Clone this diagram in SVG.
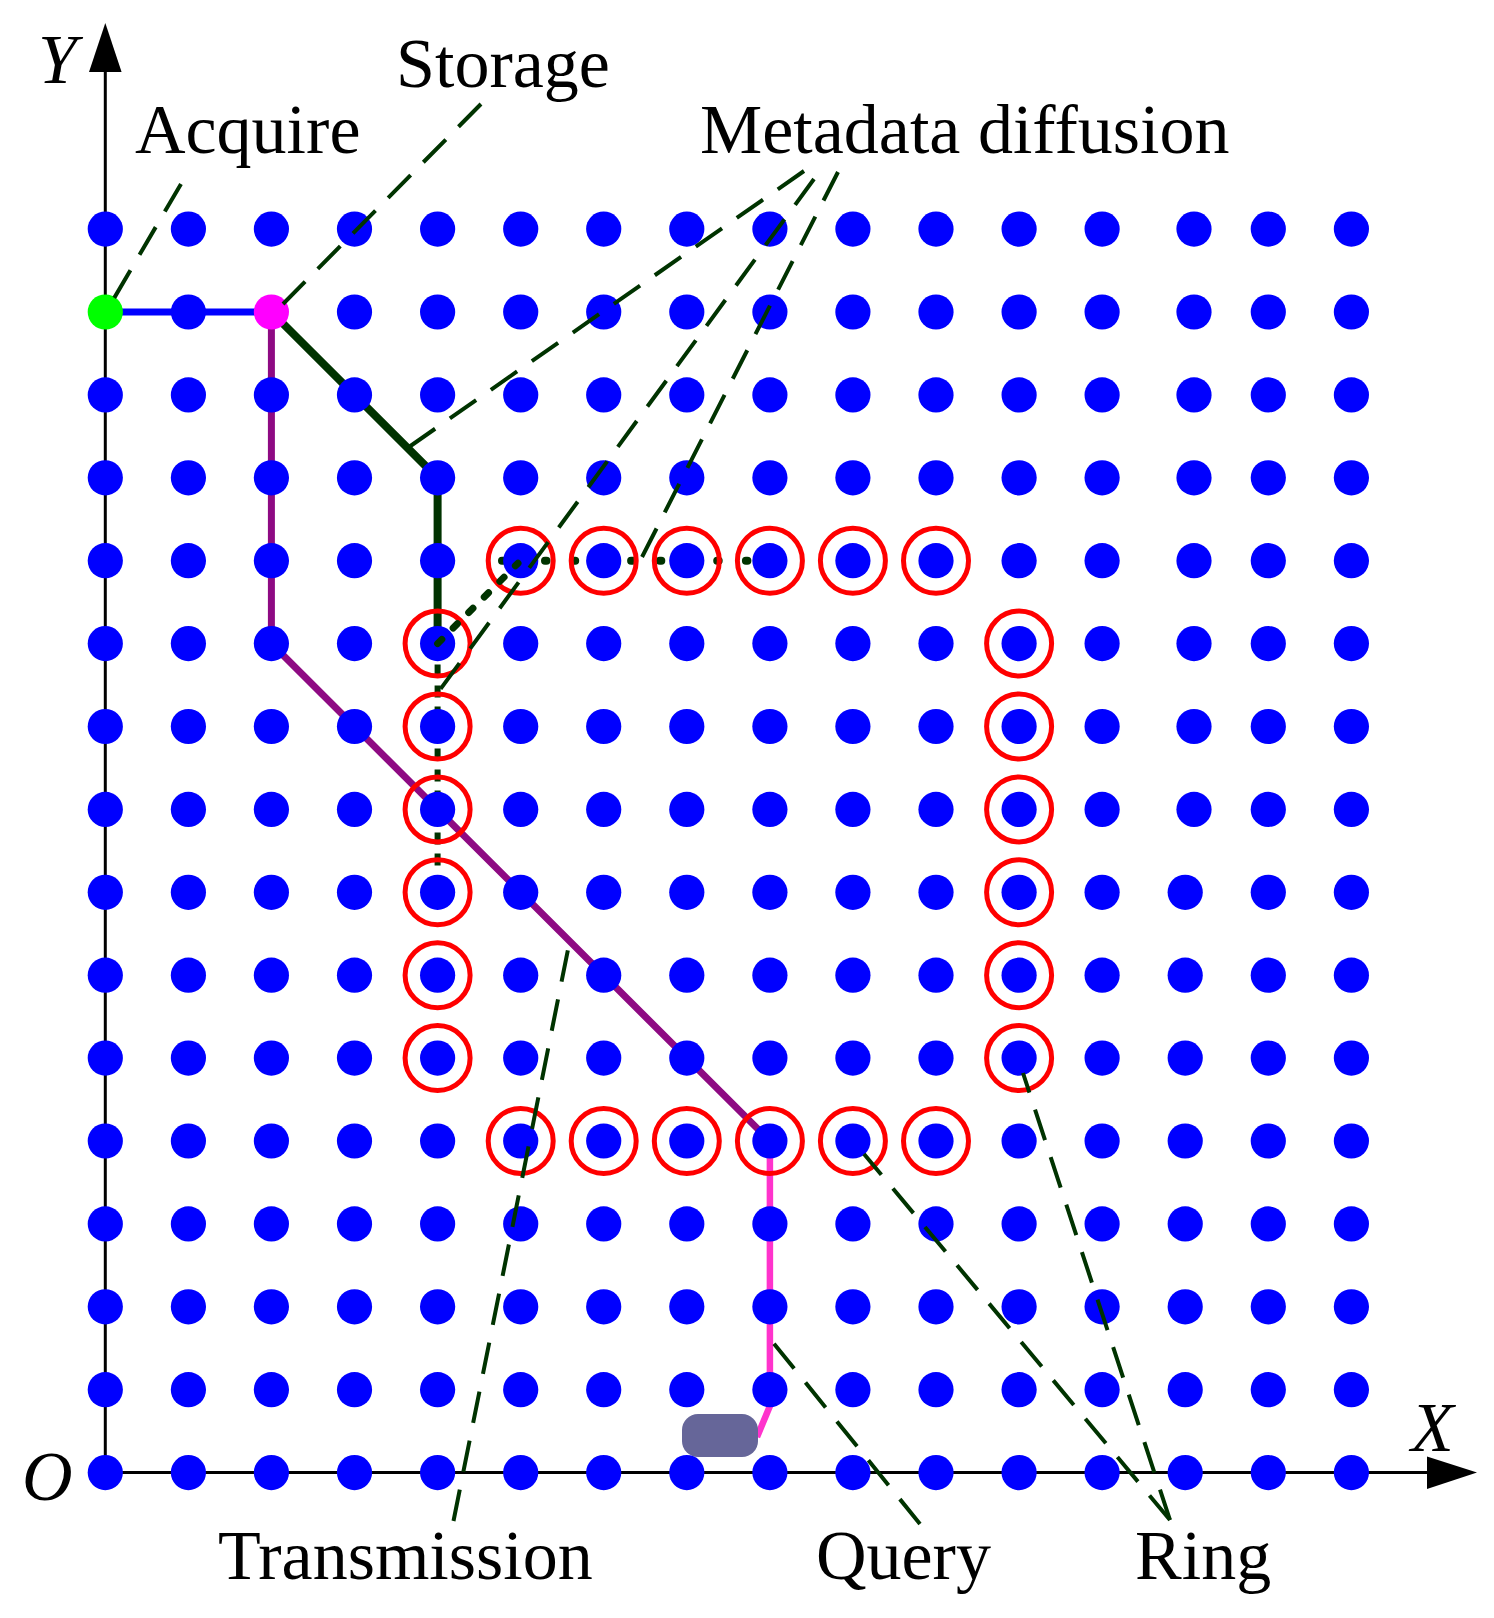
<svg xmlns="http://www.w3.org/2000/svg" width="1494" height="1618" viewBox="0 0 1494 1618">
<style>
.bg{fill:#fff}
.d{fill:#0000ff}
.d circle{r:17.6px}
.ring{fill:none;stroke:#ff0000;stroke-width:5}
.axis{stroke:#000;stroke-width:3;fill:none}
.lbl{font-family:"Liberation Serif","Times New Roman",serif;font-size:70px;fill:#000}
.it{font-style:italic}
.lead{fill:none;stroke:#003300;stroke-width:4;stroke-dasharray:32 18}
</style>
<rect class="bg" x="0" y="0" width="1494" height="1618"/>

<!-- axes -->
<g id="axes">
  <line class="axis" x1="105.3" y1="70" x2="105.3" y2="1472.6"/>
  <line class="axis" x1="105.3" y1="1472.6" x2="1430" y2="1472.6"/>
  <polygon points="105.3,23 89,72 121.6,72" fill="#000"/>
  <polygon points="1477,1472.6 1427,1456.5 1427,1489" fill="#000"/>
  <text class="lbl it" x="38" y="83">Y</text>
  <text class="lbl it" x="1411" y="1451" font-size="74">X</text>
  <text class="lbl it" x="22" y="1500">O</text>
</g>

<!-- connectors (under nodes) -->
<g id="connectors-under" fill="none">
  <path d="M105.3,312 L271.4,312" stroke="#0000ff" stroke-width="7"/>
  <path d="M271.4,312 L271.4,643.6 L769.9,1141" stroke="#8e0a83" stroke-width="7" stroke-linejoin="round"/>
  <path d="M769.9,1141 L769.9,1406 L757,1437" stroke="#ff33cc" stroke-width="6.5"/>
  <path d="M271.4,312 L437.6,477.8 L437.6,643.6" stroke="#003300" stroke-width="8"/>
  <path d="M437.6,643.6 L437.6,866" stroke="#003300" stroke-width="6" stroke-dasharray="12 9"/>
  <path d="M502,560.7 L503,560.7 M545,560.7 L748,560.7" stroke="#003300" stroke-width="8" stroke-dasharray="1.5 27.2" stroke-linecap="round"/>
</g>

<g id="device">
  <rect x="682" y="1414" width="76" height="43" rx="16" fill="#666699"/>
</g>

<!-- node grid -->
<g id="nodes" class="d">
  <g id="row-0" transform="translate(0,229.1)"><circle cx="105.3"/><circle cx="188.4"/><circle cx="271.4"/><circle cx="354.5"/><circle cx="437.6"/><circle cx="520.7"/><circle cx="603.7"/><circle cx="686.8"/><circle cx="769.9"/><circle cx="852.9"/><circle cx="936"/><circle cx="1019.1"/><circle cx="1102.1"/><circle cx="1194"/><circle cx="1268.3"/><circle cx="1351.4"/></g>
  <g id="row-1" transform="translate(0,312)"><circle cx="105.3" id="acquire" fill="#00ff00"/><circle cx="188.4"/><circle cx="271.4" id="storage" fill="#ff00ff"/><circle cx="354.5"/><circle cx="437.6"/><circle cx="520.7"/><circle cx="603.7"/><circle cx="686.8"/><circle cx="769.9"/><circle cx="852.9"/><circle cx="936"/><circle cx="1019.1"/><circle cx="1102.1"/><circle cx="1194"/><circle cx="1268.3"/><circle cx="1351.4"/></g>
  <g id="row-2" transform="translate(0,394.9)"><circle cx="105.3"/><circle cx="188.4"/><circle cx="271.4"/><circle cx="354.5"/><circle cx="437.6"/><circle cx="520.7"/><circle cx="603.7"/><circle cx="686.8"/><circle cx="769.9"/><circle cx="852.9"/><circle cx="936"/><circle cx="1019.1"/><circle cx="1102.1"/><circle cx="1194"/><circle cx="1268.3"/><circle cx="1351.4"/></g>
  <g id="row-3" transform="translate(0,477.8)"><circle cx="105.3"/><circle cx="188.4"/><circle cx="271.4"/><circle cx="354.5"/><circle cx="437.6"/><circle cx="520.7"/><circle cx="603.7"/><circle cx="686.8"/><circle cx="769.9"/><circle cx="852.9"/><circle cx="936"/><circle cx="1019.1"/><circle cx="1102.1"/><circle cx="1194"/><circle cx="1268.3"/><circle cx="1351.4"/></g>
  <g id="row-4" transform="translate(0,560.7)"><circle cx="105.3"/><circle cx="188.4"/><circle cx="271.4"/><circle cx="354.5"/><circle cx="437.6"/><circle cx="520.7"/><circle cx="603.7"/><circle cx="686.8"/><circle cx="769.9"/><circle cx="852.9"/><circle cx="936"/><circle cx="1019.1"/><circle cx="1102.1"/><circle cx="1194"/><circle cx="1268.3"/><circle cx="1351.4"/></g>
  <g id="row-5" transform="translate(0,643.6)"><circle cx="105.3"/><circle cx="188.4"/><circle cx="271.4"/><circle cx="354.5"/><circle cx="437.6"/><circle cx="520.7"/><circle cx="603.7"/><circle cx="686.8"/><circle cx="769.9"/><circle cx="852.9"/><circle cx="936"/><circle cx="1019.1"/><circle cx="1102.1"/><circle cx="1194"/><circle cx="1268.3"/><circle cx="1351.4"/></g>
  <g id="row-6" transform="translate(0,726.5)"><circle cx="105.3"/><circle cx="188.4"/><circle cx="271.4"/><circle cx="354.5"/><circle cx="437.6"/><circle cx="520.7"/><circle cx="603.7"/><circle cx="686.8"/><circle cx="769.9"/><circle cx="852.9"/><circle cx="936"/><circle cx="1019.1"/><circle cx="1102.1"/><circle cx="1194"/><circle cx="1268.3"/><circle cx="1351.4"/></g>
  <g id="row-7" transform="translate(0,809.4)"><circle cx="105.3"/><circle cx="188.4"/><circle cx="271.4"/><circle cx="354.5"/><circle cx="437.6"/><circle cx="520.7"/><circle cx="603.7"/><circle cx="686.8"/><circle cx="769.9"/><circle cx="852.9"/><circle cx="936"/><circle cx="1019.1"/><circle cx="1102.1"/><circle cx="1194"/><circle cx="1268.3"/><circle cx="1351.4"/></g>
  <g id="row-8" transform="translate(0,892.3)"><circle cx="105.3"/><circle cx="188.4"/><circle cx="271.4"/><circle cx="354.5"/><circle cx="437.6"/><circle cx="520.7"/><circle cx="603.7"/><circle cx="686.8"/><circle cx="769.9"/><circle cx="852.9"/><circle cx="936"/><circle cx="1019.1"/><circle cx="1102.1"/><circle cx="1185.2"/><circle cx="1268.3"/><circle cx="1351.4"/></g>
  <g id="row-9" transform="translate(0,975.2)"><circle cx="105.3"/><circle cx="188.4"/><circle cx="271.4"/><circle cx="354.5"/><circle cx="437.6"/><circle cx="520.7"/><circle cx="603.7"/><circle cx="686.8"/><circle cx="769.9"/><circle cx="852.9"/><circle cx="936"/><circle cx="1019.1"/><circle cx="1102.1"/><circle cx="1185.2"/><circle cx="1268.3"/><circle cx="1351.4"/></g>
  <g id="row-10" transform="translate(0,1058.1)"><circle cx="105.3"/><circle cx="188.4"/><circle cx="271.4"/><circle cx="354.5"/><circle cx="437.6"/><circle cx="520.7"/><circle cx="603.7"/><circle cx="686.8"/><circle cx="769.9"/><circle cx="852.9"/><circle cx="936"/><circle cx="1019.1"/><circle cx="1102.1"/><circle cx="1185.2"/><circle cx="1268.3"/><circle cx="1351.4"/></g>
  <g id="row-11" transform="translate(0,1141)"><circle cx="105.3"/><circle cx="188.4"/><circle cx="271.4"/><circle cx="354.5"/><circle cx="437.6"/><circle cx="520.7"/><circle cx="603.7"/><circle cx="686.8"/><circle cx="769.9"/><circle cx="852.9"/><circle cx="936"/><circle cx="1019.1"/><circle cx="1102.1"/><circle cx="1185.2"/><circle cx="1268.3"/><circle cx="1351.4"/></g>
  <g id="row-12" transform="translate(0,1223.9)"><circle cx="105.3"/><circle cx="188.4"/><circle cx="271.4"/><circle cx="354.5"/><circle cx="437.6"/><circle cx="520.7"/><circle cx="603.7"/><circle cx="686.8"/><circle cx="769.9"/><circle cx="852.9"/><circle cx="936"/><circle cx="1019.1"/><circle cx="1102.1"/><circle cx="1185.2"/><circle cx="1268.3"/><circle cx="1351.4"/></g>
  <g id="row-13" transform="translate(0,1306.8)"><circle cx="105.3"/><circle cx="188.4"/><circle cx="271.4"/><circle cx="354.5"/><circle cx="437.6"/><circle cx="520.7"/><circle cx="603.7"/><circle cx="686.8"/><circle cx="769.9"/><circle cx="852.9"/><circle cx="936"/><circle cx="1019.1"/><circle cx="1102.1"/><circle cx="1185.2"/><circle cx="1268.3"/><circle cx="1351.4"/></g>
  <g id="row-14" transform="translate(0,1389.7)"><circle cx="105.3"/><circle cx="188.4"/><circle cx="271.4"/><circle cx="354.5"/><circle cx="437.6"/><circle cx="520.7"/><circle cx="603.7"/><circle cx="686.8"/><circle cx="769.9"/><circle cx="852.9"/><circle cx="936"/><circle cx="1019.1"/><circle cx="1102.1"/><circle cx="1185.2"/><circle cx="1268.3"/><circle cx="1351.4"/></g>
  <g id="row-15" transform="translate(0,1472.6)"><circle cx="105.3"/><circle cx="188.4"/><circle cx="271.4"/><circle cx="354.5"/><circle cx="437.6"/><circle cx="520.7"/><circle cx="603.7"/><circle cx="686.8"/><circle cx="769.9"/><circle cx="852.9"/><circle cx="936"/><circle cx="1019.1"/><circle cx="1102.1"/><circle cx="1185.2"/><circle cx="1268.3"/><circle cx="1351.4"/></g>
</g>

<!-- ring of marked nodes -->
<g id="ring" class="ring">
  <circle cx="520.7" cy="560.7" r="32.5"/><circle cx="603.7" cy="560.7" r="32.5"/><circle cx="686.8" cy="560.7" r="32.5"/><circle cx="769.9" cy="560.7" r="32.5"/><circle cx="852.9" cy="560.7" r="32.5"/><circle cx="936" cy="560.7" r="32.5"/>
  <circle cx="520.7" cy="1141" r="32.5"/><circle cx="603.7" cy="1141" r="32.5"/><circle cx="686.8" cy="1141" r="32.5"/><circle cx="769.9" cy="1141" r="32.5"/><circle cx="852.9" cy="1141" r="32.5"/><circle cx="936" cy="1141" r="32.5"/>
  <circle cx="437.6" cy="643.6" r="32.5"/><circle cx="437.6" cy="726.5" r="32.5"/><circle cx="437.6" cy="809.4" r="32.5"/><circle cx="437.6" cy="892.3" r="32.5"/><circle cx="437.6" cy="975.2" r="32.5"/><circle cx="437.6" cy="1058.1" r="32.5"/>
  <circle cx="1019.1" cy="643.6" r="32.5"/><circle cx="1019.1" cy="726.5" r="32.5"/><circle cx="1019.1" cy="809.4" r="32.5"/><circle cx="1019.1" cy="892.3" r="32.5"/><circle cx="1019.1" cy="975.2" r="32.5"/><circle cx="1019.1" cy="1058.1" r="32.5"/>
</g>

<!-- connectors over nodes -->
<g id="connectors">
  <path d="M437.6,643.6 L518,563.2" fill="none" stroke="#003300" stroke-width="7" stroke-dasharray="6 16" stroke-linecap="round"/>
  <path class="lead" d="M181,184 L113,300"/>
  <path class="lead" d="M481,104 L283,304"/>
  <path class="lead" d="M804,171 L409,447"/>
  <path class="lead" d="M814,179 L437.6,693"/>
  <path class="lead" d="M838,172 L640,561"/>
  <path class="lead" d="M453.5,1521 L569.5,942"/>
  <path class="lead" d="M920,1524 L771,1340"/>
  <path class="lead" d="M1170,1520 L864,1154"/>
  <path class="lead" d="M1170,1520 L1023,1073"/>
</g>

<!-- labels -->
<g id="labels">
  <text class="lbl" x="396" y="87">Storage</text>
  <text class="lbl" x="135" y="153">Acquire</text>
  <text class="lbl" x="700" y="153">Metadata diffusion</text>
  <text class="lbl" x="218" y="1579">Transmission</text>
  <text class="lbl" x="816" y="1579">Query</text>
  <text class="lbl" x="1135" y="1579">Ring</text>
</g>
</svg>
